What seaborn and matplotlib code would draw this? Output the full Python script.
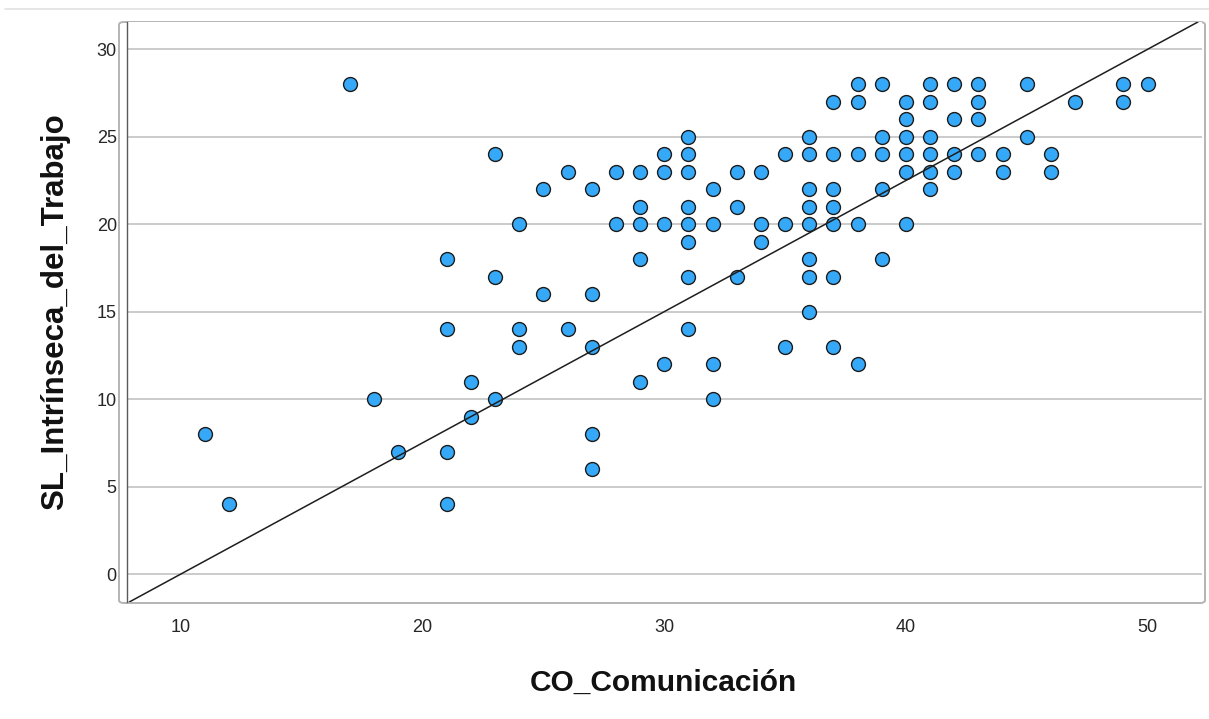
import numpy as np
import pandas as pd
import matplotlib
matplotlib.use("Agg")
import matplotlib.pyplot as plt
from matplotlib.lines import Line2D
from matplotlib.patches import FancyBboxPatch
import seaborn as sns

# Scores per respondent, grouped by communication score (x) with the
# intrinsic-satisfaction scores (y) observed at that x.
co_values = [11, 12, 17, 18, 19, 21, 22, 23, 24, 25, 26, 27, 28, 29, 30, 31,
             32, 33, 34, 35, 36, 37, 38, 39, 40, 41, 42, 43, 44, 45, 46, 47,
             49, 50]
sl_by_co = [
    [8],
    [4],
    [28],
    [10],
    [7],
    [18, 14, 7, 4],
    [11, 9],
    [24, 17, 10],
    [20, 14, 13],
    [22, 16],
    [23, 14],
    [22, 16, 13, 8, 6],
    [23, 20],
    [23, 21, 20, 18, 11],
    [24, 23, 20, 12],
    [25, 24, 23, 21, 20, 19, 17, 14],
    [22, 20, 12, 10],
    [23, 21, 17],
    [23, 20, 19],
    [24, 20, 13],
    [25, 24, 22, 21, 20, 18, 17, 15],
    [27, 24, 22, 21, 20, 17, 13],
    [28, 27, 24, 20, 12],
    [28, 25, 24, 22, 18],
    [27, 26, 25, 24, 23, 20],
    [28, 27, 25, 24, 23, 22],
    [28, 26, 24, 23],
    [28, 27, 26, 24],
    [24, 23],
    [28, 25],
    [24, 23],
    [27],
    [28, 27],
    [28],
]
# reference line: SL = ref_intercept + ref_slope * CO
ref_intercept = -7.5
ref_slope = 0.75

x_ticks = [10, 20, 30, 40, 50]
y_ticks = [0, 5, 10, 15, 20, 25, 30]
x_label = "CO_Comunicación"
y_label = "SL_Intrínseca_del_Trabajo"

df = pd.DataFrame(
    [(x, y) for x, ys in zip(co_values, sl_by_co) for y in ys],
    columns=[x_label, y_label],
)

sns.set_theme(style="white")
plt.rcParams["font.family"] = ["Liberation Sans", "DejaVu Sans"]

W, H = 1209, 719
fig = plt.figure(figsize=(W / 100, H / 100), dpi=100)
fig.patch.set_facecolor("white")

# plot area in pixel coordinates
left_px, right_px, top_px, bottom_px = 126.5, 1202, 22, 602
ax = fig.add_axes([left_px / W, 1 - bottom_px / H,
                   (right_px - left_px) / W, (bottom_px - top_px) / H])

xlim = (7.75, 52.25)
ylim = (-1.6, 31.56)

# horizontal reference lines
for yv in y_ticks:
    ax.axhline(yv, color="#bdbdbd", lw=1.1, zorder=0)

sns.scatterplot(data=df, x=x_label, y=y_label, ax=ax, s=100,
                color="#35a9f8", edgecolor="#1c1c1c", linewidth=1.0,
                zorder=3)

ax.axline((0, ref_intercept), slope=ref_slope, color="#1e1e1e", lw=1.1,
          zorder=4)

ax.set_xlim(*xlim)
ax.set_ylim(*ylim)
ax.set_xticks(x_ticks)
ax.set_yticks(y_ticks)
ax.tick_params(axis="both", length=0, labelsize=13, labelcolor="#262626")
ax.tick_params(axis="x", pad=12)
ax.tick_params(axis="y", pad=7)

for side in ["top", "right", "bottom"]:
    ax.spines[side].set_visible(False)
ax.spines["left"].set_color("#5a5a5a")
ax.spines["left"].set_linewidth(1.0)

ax.set_xlabel(x_label, fontsize=21.5, fontweight="bold", color="#111111")
ax.set_ylabel(y_label, fontsize=22.5, fontweight="bold", color="#111111")
ax.xaxis.label.set_va("center")
ax.yaxis.label.set_va("center")
ax.xaxis.set_label_coords(0.499, (bottom_px - 683) / (bottom_px - top_px))
ax.yaxis.set_label_coords((55 - left_px) / (right_px - left_px), 0.5)

# rounded chart frame
frame = FancyBboxPatch((119 / W, 1 - 603 / H), (1205 - 119) / W,
                       (603 - 22) / H, boxstyle="round,pad=0,rounding_size=0.004",
                       transform=fig.transFigure, facecolor="none",
                       edgecolor="#b4b4b4", lw=1.4, zorder=0)
fig.add_artist(frame)

# light separator above the chart
fig.add_artist(Line2D([5 / W, 1], [1 - 9 / H, 1 - 9 / H],
                      transform=fig.transFigure, color="#e2e2e2", lw=1.2))

fig.savefig("out.png", dpi=100, facecolor="white")
